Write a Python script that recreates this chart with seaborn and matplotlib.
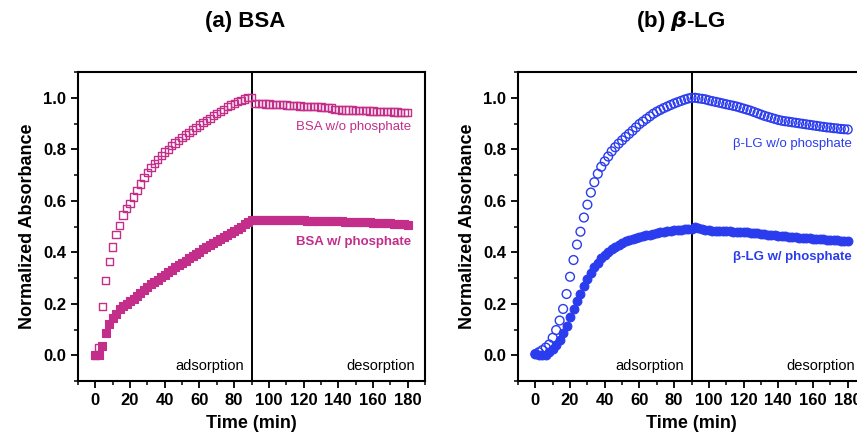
import numpy as np
import pandas as pd
import matplotlib
matplotlib.use("Agg")
import matplotlib.pyplot as plt
import seaborn as sns
from matplotlib.ticker import MultipleLocator

# sampling times (min), one reading every 2 min
time_min = list(range(0, 182, 2))

bsa_without = [
    0.0, 0.03, 0.19, 0.29, 0.365, 0.42, 0.47, 0.505, 0.545, 0.57,
    0.59, 0.615, 0.64, 0.665, 0.69, 0.71, 0.73, 0.745, 0.76, 0.775,
    0.79, 0.80, 0.815, 0.825, 0.835, 0.845, 0.855, 0.865, 0.875, 0.885,
    0.895, 0.905, 0.912, 0.92, 0.93, 0.94, 0.948, 0.955, 0.965, 0.972,
    0.978, 0.985, 0.99, 0.995, 1.0, 1.0,
    0.978, 0.977, 0.977, 0.976, 0.976, 0.975, 0.975, 0.974, 0.973, 0.972,
    0.971, 0.97, 0.969, 0.968, 0.967, 0.966, 0.966, 0.965, 0.965, 0.964,
    0.963, 0.962, 0.961, 0.955, 0.954, 0.953, 0.953, 0.952, 0.952, 0.951,
    0.951, 0.95, 0.95, 0.949, 0.949, 0.948, 0.948, 0.947, 0.947, 0.946,
    0.945, 0.945, 0.944, 0.943, 0.942,
]
bsa_with = [
    0.0, 0.0, 0.035, 0.085, 0.12, 0.145, 0.162, 0.178, 0.19, 0.2,
    0.21, 0.22, 0.232, 0.243, 0.255, 0.265, 0.275, 0.285, 0.293, 0.303,
    0.313, 0.322, 0.332, 0.342, 0.35, 0.36, 0.368, 0.377, 0.386, 0.394,
    0.403, 0.411, 0.42, 0.428, 0.436, 0.444, 0.452, 0.46, 0.468, 0.476,
    0.484, 0.492, 0.5, 0.508, 0.516, 0.524,
    0.527, 0.527, 0.527, 0.527, 0.526, 0.526, 0.526, 0.526, 0.525, 0.525,
    0.525, 0.525, 0.524, 0.524, 0.524, 0.523, 0.523, 0.523, 0.522, 0.522,
    0.522, 0.521, 0.521, 0.520, 0.520, 0.520, 0.519, 0.519, 0.518, 0.518,
    0.517, 0.517, 0.516, 0.516, 0.515, 0.515, 0.514, 0.513, 0.513, 0.512,
    0.511, 0.510, 0.509, 0.508, 0.507,
]
blg_without = [
    0.005, 0.012, 0.02, 0.03, 0.042, 0.068, 0.098, 0.135, 0.18, 0.238,
    0.305, 0.37, 0.43, 0.48, 0.535, 0.585, 0.632, 0.672, 0.705, 0.732,
    0.753, 0.772, 0.792, 0.808, 0.822, 0.835, 0.848, 0.86, 0.872, 0.885,
    0.898, 0.908, 0.918, 0.928, 0.938, 0.946, 0.953, 0.96, 0.966, 0.972,
    0.978, 0.983, 0.988, 0.993, 0.997, 1.0,
    1.0, 0.998, 0.996, 0.994, 0.99, 0.987, 0.984, 0.981, 0.978, 0.975,
    0.972, 0.969, 0.966, 0.962, 0.958, 0.954, 0.95, 0.945, 0.94, 0.935,
    0.93, 0.926, 0.922, 0.918, 0.914, 0.911, 0.909, 0.907, 0.905, 0.903,
    0.901, 0.899, 0.897, 0.895, 0.893, 0.891, 0.889, 0.887, 0.885, 0.884,
    0.882, 0.881, 0.879, 0.878, 0.877,
]
blg_with = [
    0.005, 0.003, 0.002, 0.003, 0.012, 0.025, 0.04, 0.06, 0.085, 0.115,
    0.148, 0.18, 0.21, 0.238, 0.268, 0.295, 0.32, 0.342, 0.36, 0.377,
    0.39, 0.402, 0.412, 0.421, 0.429, 0.436, 0.442, 0.447, 0.452, 0.456,
    0.46, 0.463, 0.466, 0.469, 0.472, 0.475, 0.477, 0.479, 0.481, 0.483,
    0.485, 0.487, 0.488, 0.489, 0.49, 0.492,
    0.497, 0.494, 0.49, 0.487, 0.485, 0.484, 0.483, 0.483, 0.482, 0.481,
    0.481, 0.48, 0.479, 0.479, 0.478, 0.477, 0.476, 0.475, 0.474, 0.472,
    0.471, 0.469, 0.467, 0.466, 0.464, 0.463, 0.462, 0.46, 0.459, 0.458,
    0.457, 0.456, 0.455, 0.454, 0.453, 0.452, 0.451, 0.45, 0.449, 0.448,
    0.447, 0.446, 0.445, 0.445, 0.444,
]

MAGENTA = "#C22E8A"
BLUE = "#2A3CEE"

sns.set_style("white")
plt.rcParams["font.family"] = ["Liberation Sans", "DejaVu Sans"]
plt.rcParams["text.color"] = "black"
plt.rcParams["axes.labelcolor"] = "black"
plt.rcParams["xtick.color"] = "black"
plt.rcParams["ytick.color"] = "black"

fig = plt.figure(figsize=(8.57, 4.34), dpi=100)
ax1 = fig.add_axes([0.091, 0.122, 0.405, 0.712])
ax2 = fig.add_axes([0.6044, 0.122, 0.405, 0.712])


def draw_panel(ax, y_open, y_filled, color, marker, size):
    df = pd.DataFrame({"t": time_min, "open": y_open, "filled": y_filled})
    sns.scatterplot(data=df, x="t", y="filled", ax=ax, marker=marker, s=size,
                    color=color, edgecolor=color, linewidth=0.8, zorder=3)
    sns.scatterplot(data=df, x="t", y="open", ax=ax, marker=marker, s=size,
                    facecolor="none", edgecolor=color, linewidth=1.0, zorder=3)
    ax.axvline(90, color="black", lw=1.4, zorder=2)
    ax.set_xlim(-10, 190)
    ax.set_ylim(-0.1, 1.1)
    ax.xaxis.set_major_locator(MultipleLocator(20))
    ax.xaxis.set_minor_locator(MultipleLocator(10))
    ax.yaxis.set_major_locator(MultipleLocator(0.2))
    ax.yaxis.set_minor_locator(MultipleLocator(0.1))
    ax.yaxis.set_major_formatter(matplotlib.ticker.FormatStrFormatter("%.1f"))
    ax.tick_params(which="major", direction="out", length=5, width=1.3,
                   labelsize=12, bottom=True, left=True)
    ax.tick_params(which="minor", direction="out", length=3, width=1.1,
                   bottom=True, left=True)
    for lab in ax.get_xticklabels() + ax.get_yticklabels():
        lab.set_fontweight("bold")
    for sp in ax.spines.values():
        sp.set_color("black")
        sp.set_linewidth(1.5)
    ax.set_xlabel("Time (min)", fontsize=13, fontweight="bold", labelpad=5)
    ax.set_ylabel("Normalized Absorbance", fontsize=13, fontweight="bold", labelpad=5)
    ax.text(85.5, -0.04, "adsorption", ha="right", va="center", fontsize=10.5)
    ax.text(184, -0.04, "desorption", ha="right", va="center", fontsize=10.5)


draw_panel(ax1, bsa_without, bsa_with, MAGENTA, "s", 28)
ax1.text(182, 0.886, "BSA w/o phosphate", ha="right", va="center",
         fontsize=9.5, color=MAGENTA)
ax1.text(182, 0.44, "BSA w/ phosphate", ha="right", va="center",
         fontsize=9.5, color=MAGENTA, fontweight="bold")

draw_panel(ax2, blg_without, blg_with, BLUE, "o", 40)
ax2.text(182.5, 0.82, "β-LG w/o phosphate", ha="right", va="center",
         fontsize=9.5, color=BLUE)
ax2.text(182.5, 0.38, "β-LG w/ phosphate", ha="right", va="center",
         fontsize=9.5, color=BLUE, fontweight="bold")

fig.text(0.286, 0.95, "(a) BSA", ha="center", va="center",
         fontsize=16, fontweight="bold")
fig.text(0.794, 0.95, "(b) $\\boldsymbol{\\beta}$-LG", ha="center", va="center",
         fontsize=16, fontweight="bold")

fig.savefig("out.png", dpi=100)
